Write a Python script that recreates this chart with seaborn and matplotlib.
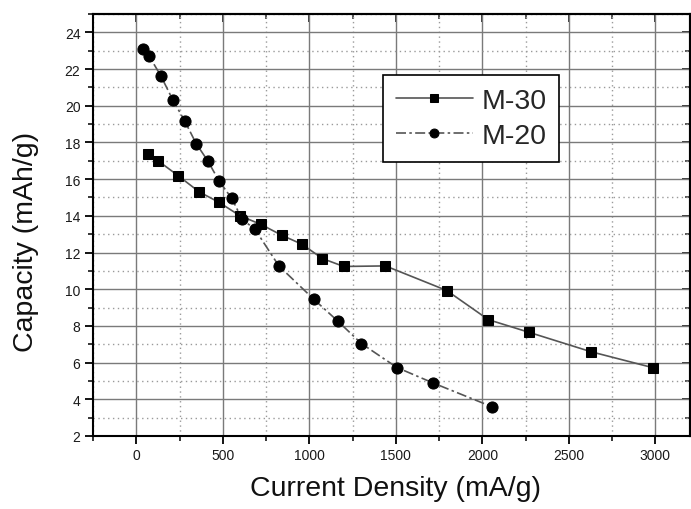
import matplotlib
matplotlib.use("Agg")
import matplotlib.pyplot as plt
from matplotlib.ticker import MultipleLocator
import seaborn as sns
import pandas as pd

# Rate capability data (current density in mA/g, capacity in mAh/g)
m30_current = [65, 126, 243, 363, 479, 600, 719, 841, 958, 1076, 1199, 1440,
               1794, 2035, 2270, 2629, 2987]
m30_capacity = [17.35, 17.0, 16.18, 15.31, 14.73, 14.0, 13.54, 12.94, 12.45,
                11.67, 11.24, 11.27, 9.93, 8.34, 7.65, 6.59, 5.72]

m20_current = [37, 73, 142, 210, 280, 346, 413, 479, 552, 612, 686, 824,
               1025, 1166, 1301, 1507, 1713, 2054]
m20_capacity = [23.1, 22.73, 21.63, 20.34, 19.17, 17.94, 17.0, 15.89, 14.95,
                13.81, 13.27, 11.27, 9.46, 8.25, 7.04, 5.73, 4.9, 3.6]

x_ticks = [0, 500, 1000, 1500, 2000, 2500, 3000]
y_ticks = [2, 4, 6, 8, 10, 12, 14, 16, 18, 20, 22, 24]

sns.set_style("white")
plt.rcParams["font.family"] = ["Liberation Sans", "DejaVu Sans"]

fig = plt.figure(figsize=(6.91, 5.10), dpi=100)
ax = fig.add_axes([93 / 691, 1 - 437 / 510, (690 - 93) / 691, (437 - 15) / 510])

df30 = pd.DataFrame({"x": m30_current, "y": m30_capacity})
df20 = pd.DataFrame({"x": m20_current, "y": m20_capacity})

sns.lineplot(data=df30, x="x", y="y", ax=ax, color="#555555", lw=1.2,
             marker="s", markersize=6.5, markerfacecolor="black",
             markeredgecolor="black", label="M-30", zorder=3)
sns.lineplot(data=df20, x="x", y="y", ax=ax, color="#555555", lw=1.2,
             linestyle=(0, (6, 2, 1.5, 2)),
             marker="o", markersize=8, markerfacecolor="black",
             markeredgecolor="black", label="M-20", zorder=3)

ax.set_xlim(-250, 3200)
ax.set_ylim(2, 25)
ax.set_xticks(x_ticks)
ax.set_yticks(y_ticks)
ax.xaxis.set_minor_locator(MultipleLocator(250))
ax.yaxis.set_minor_locator(MultipleLocator(1))

ax.grid(which="major", color="#7a7a7a", lw=1.0, ls="-")
ax.grid(which="minor", color="#9a9a9a", lw=1.0, ls=(0, (1, 2.5)))
ax.set_axisbelow(True)

for s in ax.spines.values():
    s.set_visible(True)
    s.set_color("black")
    s.set_linewidth(1.5)

ax.tick_params(which="both", left=True, bottom=True, top=False, right=False)
ax.tick_params(which="major", direction="out", length=6, width=1.3,
               labelsize=10, colors="black", labelcolor="#1a1a1a", pad=3)
ax.tick_params(which="minor", direction="out", length=3.5, width=1.1,
               colors="black")

# Inward ticks on the top and right frame edges
top = ax.secondary_xaxis("top")
top.set_xticks(x_ticks)
top.xaxis.set_minor_locator(MultipleLocator(250))
top.tick_params(which="both", top=True, labeltop=False, direction="in")
top.tick_params(which="major", length=6, width=1.3)
top.tick_params(which="minor", length=3.5, width=1.1)
right = ax.secondary_yaxis("right")
right.set_yticks(y_ticks)
right.yaxis.set_minor_locator(MultipleLocator(1))
right.tick_params(which="both", right=True, labelright=False, direction="in")
right.tick_params(which="major", length=6, width=1.3)
right.tick_params(which="minor", length=3.5, width=1.1)
for sec in (top, right):
    for s in sec.spines.values():
        s.set_linewidth(1.5)

ax.set_xlabel("Current Density (mA/g)", fontsize=20.5, color="#111111")
ax.set_ylabel("Capacity (mAh/g)", fontsize=20.5, color="#111111")
ax.xaxis.set_label_coords((395 - 93) / 597, -(476 - 437) / 422)
ax.yaxis.set_label_coords(-(93 - 39) / 597, (437 - 242) / 422)

leg = ax.legend(loc="upper left", bbox_to_anchor=((383 - 93) / 597, 1 - (76 - 15) / 422),
                fontsize=20.5, frameon=True, fancybox=False, edgecolor="black",
                framealpha=1, handlelength=2.7, handletextpad=0.3,
                borderpad=0.45, labelspacing=0.33, borderaxespad=0,
                markerscale=0.8)
leg.get_frame().set_linewidth(1.2)

fig.savefig("out.png", dpi=100)
